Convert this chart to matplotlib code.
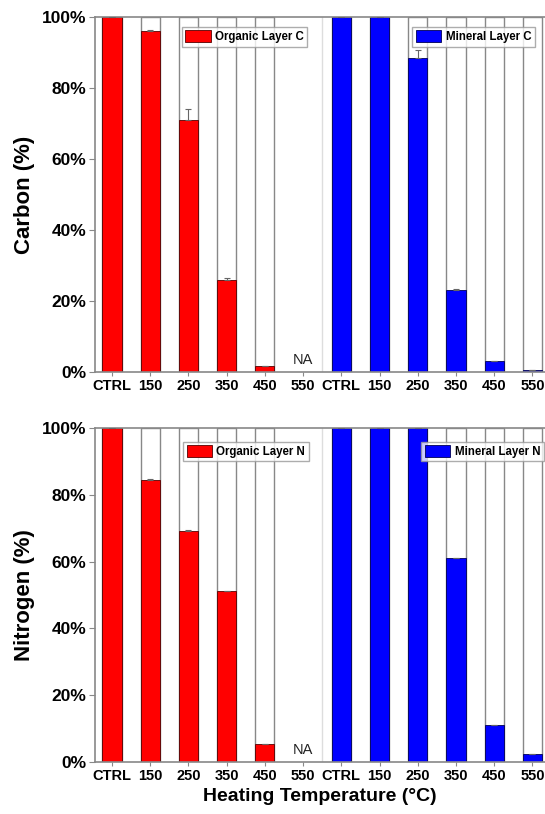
import matplotlib.pyplot as plt
from matplotlib.ticker import PercentFormatter

plt.rcParams["font.family"] = ["Liberation Sans", "DejaVu Sans"]

temps = ["CTRL", "150", "250", "350", "450", "550"]

# carbon remaining (%)
org_c = [100, 96.2, 71.0, 26.0, 1.7, None]
org_c_err = [0, 0.3, 3.2, 0.5, 0, 0]
min_c = [100, 100, 88.5, 23.0, 3.0, 0.5]
min_c_err = [0, 0, 2.2, 0.5, 0, 0]

# nitrogen remaining (%)
org_n = [100, 84.4, 69.3, 51.2, 5.3, None]
org_n_err = [0, 0.3, 0.2, 0, 0, 0]
min_n = [100, 100, 100, 61.0, 11.0, 2.3]
min_n_err = [0, 0, 0, 0, 0, 0]

RED = "#ff0000"
BLUE = "#0000ff"
GRAY = "#888888"

fig = plt.figure(figsize=(5.45, 8.14), dpi=100)
ax_c = fig.add_axes([0.174, 0.543, 0.826, 0.436])
ax_n = fig.add_axes([0.174, 0.064, 0.826, 0.410])


def panel(ax, org, org_err, mine, mine_err, org_lab, min_lab, ylab):
    n = len(temps)
    w = 0.5
    xo = list(range(n))
    xm = [i + n for i in range(n)]

    # white "100%" background bars
    for x, v in zip(xo + xm, org + mine):
        if v is None:
            continue
        ax.bar(x, 100, width=w, color="white", edgecolor=GRAY, linewidth=1.0, zorder=1)

    ox = [x for x, v in zip(xo, org) if v is not None]
    ov = [v for v in org if v is not None]
    oe = [e for e, v in zip(org_err, org) if v is not None]
    h1 = ax.bar(ox, ov, width=w, color=RED, edgecolor="#550000", linewidth=0.6, zorder=2,
                label=org_lab)
    ax.errorbar(ox, ov, yerr=[[0] * len(oe), oe], fmt="none", ecolor="#666666",
                elinewidth=0.8, capsize=2.5, capthick=0.8, zorder=3)

    h2 = ax.bar(xm, mine, width=w, color=BLUE, edgecolor="#000055", linewidth=0.6, zorder=2,
                label=min_lab)
    ax.errorbar(xm, mine, yerr=[[0] * len(mine_err), mine_err], fmt="none", ecolor="#666666",
                elinewidth=0.8, capsize=2.5, capthick=0.8, zorder=3)

    for x, v in zip(xo, org):
        if v is None:
            ax.text(x, 1.5, "NA", ha="center", va="bottom", fontsize=10.5, color="#222222")

    ax.axvline(n - 0.5, color="#dddddd", linewidth=1.0, zorder=0)

    ax.set_xlim(-0.45, 2 * n - 0.67)
    ax.set_ylim(0, 100)
    ax.set_xticks(xo + xm)
    ax.set_xticklabels(temps + temps, fontsize=10.5, fontweight="bold")
    ax.set_yticks(range(0, 101, 20))
    ax.yaxis.set_major_formatter(PercentFormatter(decimals=0))
    for t in ax.get_yticklabels():
        t.set_fontsize(12.5)
        t.set_fontweight("bold")
    ax.tick_params(axis="both", color=GRAY, length=4, pad=2)
    ax.tick_params(axis="x", length=3)
    ax.set_ylabel(ylab, fontsize=16, fontweight="bold", labelpad=5)
    for side in ["left", "bottom", "top"]:
        ax.spines[side].set_color(GRAY)
        ax.spines[side].set_linewidth(1.2)
    ax.spines["right"].set_visible(False)
    return h1, h2


h1, h2 = panel(ax_c, org_c, org_c_err, min_c, min_c_err,
               "Organic Layer C", "Mineral Layer C", "Carbon (%)")
leg_kw = dict(frameon=True, fancybox=False, edgecolor="#999999",
              handlelength=2.2, handleheight=1.2, borderpad=0.3, handletextpad=0.4,
              borderaxespad=0.0, prop={"weight": "bold", "size": 8.3})
l1 = ax_c.legend(handles=[h1], loc="upper left", bbox_to_anchor=(0.193, 0.972), **leg_kw)
ax_c.add_artist(l1)
ax_c.legend(handles=[h2], loc="upper left", bbox_to_anchor=(0.705, 0.972), **leg_kw)

h3, h4 = panel(ax_n, org_n, org_n_err, min_n, min_n_err,
               "Organic Layer N", "Mineral Layer N", "Nitrogen (%)")
l2 = ax_n.legend(handles=[h3], loc="upper left", bbox_to_anchor=(0.196, 0.96), **leg_kw)
ax_n.add_artist(l2)
ax_n.legend(handles=[h4], loc="upper left", bbox_to_anchor=(0.725, 0.96), **leg_kw)
ax_n.set_xlabel("Heating Temperature (°C)", fontsize=14, fontweight="bold", labelpad=4)

fig.savefig("out.png", dpi=100)
